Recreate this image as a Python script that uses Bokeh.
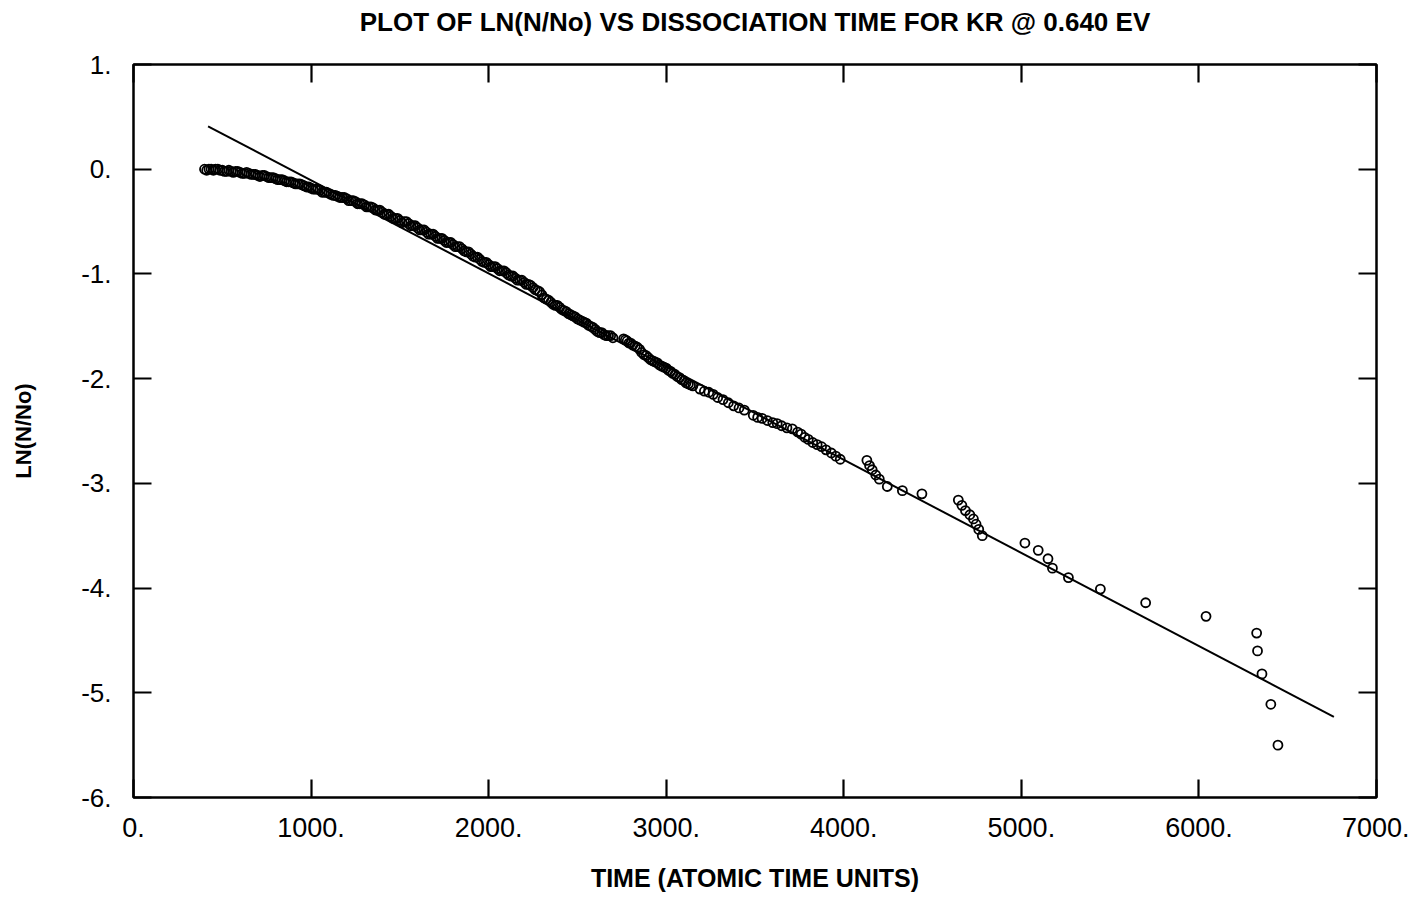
from bokeh.plotting import figure
from bokeh.models import LinearAxis, FixedTicker, Range1d
from bokeh.embed import file_html
from bokeh.resources import INLINE

# ---- data ----
time_dense = [400, 425, 450, 475, 500, 525, 550, 575, 600, 625, 650, 675, 700, 725, 750, 775,
              800, 825, 850, 875, 900, 925, 950, 975, 1000, 1025, 1050, 1075, 1100, 1125, 1150,
              1175, 1200, 1225, 1250, 1275, 1300, 1325, 1350, 1375, 1400, 1425, 1450, 1475,
              1500, 1525, 1550, 1575, 1600, 1625, 1650, 1675, 1700, 1725, 1750, 1775, 1800,
              1825, 1850, 1875, 1900, 1925, 1950, 1975, 2000, 2025, 2050, 2075, 2100, 2125,
              2150, 2175, 2200, 2225, 2250, 2275, 2300, 2325, 2350, 2375, 2400, 2425, 2450,
              2475, 2500, 2525, 2550, 2575, 2600, 2625, 2650, 2675, 2700, 2760, 2780, 2800,
              2825, 2850, 2875, 2900, 2925, 2950, 2975, 3000, 3025, 3050, 3075, 3100, 3125, 3150]
lnratio_dense = [0.00, 0.00, -0.01, 0.00, -0.01, -0.02, -0.02, -0.02, -0.03, -0.04, -0.04, -0.05,
                 -0.06, -0.06, -0.07, -0.08, -0.09, -0.10, -0.11, -0.12, -0.13, -0.14, -0.15,
                 -0.17, -0.18, -0.19, -0.20, -0.22, -0.23, -0.25, -0.26, -0.27, -0.28, -0.30,
                 -0.31, -0.33, -0.34, -0.36, -0.37, -0.39, -0.41, -0.43, -0.45, -0.47, -0.49,
                 -0.50, -0.52, -0.54, -0.56, -0.58, -0.60, -0.62, -0.64, -0.66, -0.68, -0.70,
                 -0.72, -0.74, -0.76, -0.79, -0.81, -0.84, -0.86, -0.89, -0.91, -0.93, -0.95,
                 -0.97, -0.99, -1.02, -1.04, -1.06, -1.08, -1.10, -1.13, -1.16, -1.20, -1.24,
                 -1.27, -1.30, -1.32, -1.35, -1.38, -1.40, -1.43, -1.45, -1.47, -1.50, -1.53,
                 -1.56, -1.58, -1.59, -1.61, -1.62, -1.64, -1.66, -1.69, -1.72, -1.77, -1.80,
                 -1.83, -1.85, -1.88, -1.90, -1.93, -1.96, -1.99, -2.02, -2.05, -2.07]

time_dense2 = [412, 437, 462, 487, 512, 537, 562, 587, 612, 637, 662, 687, 712, 737, 762, 787,
               812, 837, 862, 887, 912, 937, 962, 987, 1012, 1037, 1062, 1087, 1112, 1137, 1162,
               1187, 1212, 1237, 1262, 1287, 1312, 1337, 1362, 1387, 1412, 1437, 1462, 1487,
               1512, 1537, 1562, 1587, 1612, 1637, 1662, 1687, 1712, 1737, 1762, 1787, 1812,
               1837, 1862, 1887, 1912, 1937, 1962, 1987, 2012, 2037, 2062, 2087, 2112, 2137,
               2162, 2187, 2212, 2237, 2262, 2287, 2312, 2337, 2362, 2387, 2412, 2437, 2462,
               2487, 2512, 2537, 2562, 2587, 2612, 2637, 2662, 2687, 2770, 2790, 2812, 2837,
               2862, 2887, 2912, 2937, 2962, 2987, 3012, 3037, 3062, 3087, 3112, 3137]
lnratio_dense2 = [-0.01, 0.00, 0.00, -0.01, -0.02, -0.01, -0.03, -0.02, -0.04, -0.03, -0.05,
                  -0.05, -0.07, -0.06, -0.08, -0.08, -0.10, -0.10, -0.12, -0.12, -0.14, -0.14,
                  -0.16, -0.17, -0.19, -0.19, -0.22, -0.22, -0.24, -0.25, -0.27, -0.27, -0.30,
                  -0.30, -0.33, -0.33, -0.36, -0.36, -0.39, -0.39, -0.43, -0.43, -0.47, -0.47,
                  -0.51, -0.50, -0.54, -0.54, -0.58, -0.58, -0.62, -0.62, -0.66, -0.66, -0.70,
                  -0.70, -0.74, -0.74, -0.78, -0.79, -0.83, -0.84, -0.88, -0.89, -0.93, -0.93,
                  -0.97, -0.97, -1.01, -1.02, -1.06, -1.06, -1.10, -1.11, -1.15, -1.17, -1.23,
                  -1.25, -1.29, -1.30, -1.34, -1.36, -1.39, -1.41, -1.44, -1.46, -1.49, -1.51,
                  -1.55, -1.56, -1.59, -1.59, -1.63, -1.66, -1.68, -1.70, -1.75, -1.78, -1.82,
                  -1.84, -1.87, -1.89, -1.92, -1.95, -1.98, -2.01, -2.04, -2.06]

time_mid = [3190, 3215, 3240, 3265, 3290, 3320, 3350, 3380, 3410, 3440, 3490, 3515, 3540, 3570,
            3600, 3625, 3650, 3680, 3710, 3740, 3760, 3780, 3800, 3825, 3850, 3875, 3900, 3930,
            3955, 3980]
lnratio_mid = [-2.10, -2.12, -2.13, -2.15, -2.18, -2.20, -2.23, -2.26, -2.28, -2.30, -2.35, -2.37,
               -2.38, -2.40, -2.42, -2.43, -2.45, -2.47, -2.48, -2.51, -2.53, -2.56, -2.58, -2.61,
               -2.63, -2.65, -2.68, -2.71, -2.74, -2.77]

time_tail = [4130, 4145, 4160, 4180, 4200, 4245, 4330, 4440, 4645, 4665, 4685, 4710, 4730, 4745,
             4760, 4780, 5020, 5095, 5150, 5175, 5265, 5445, 5700, 6040, 6325, 6330, 6355, 6405,
             6445]
lnratio_tail = [-2.78, -2.83, -2.87, -2.92, -2.96, -3.03, -3.07, -3.10, -3.16, -3.21, -3.26, -3.30,
                -3.34, -3.39, -3.44, -3.50, -3.57, -3.64, -3.72, -3.81, -3.90, -4.01, -4.14, -4.27,
                -4.43, -4.60, -4.82, -5.11, -5.50]

fit_time = [420, 6760]
fit_lnratio = [0.41, -5.23]

x_ticks = [0, 1000, 2000, 3000, 4000, 5000, 6000, 7000]
x_tick_labels = ["0.", "1000.", "2000.", "3000.", "4000.", "5000.", "6000.", "7000."]
y_ticks = [1, 0, -1, -2, -3, -4, -5, -6]
y_tick_labels = ["1.", "0.", "-1.", "-2.", "-3.", "-4.", "-5.", "-6."]

title_text = "PLOT OF LN(N/No) VS DISSOCIATION TIME FOR KR @ 0.640 EV"
x_label = "TIME (ATOMIC TIME UNITS)"
y_label = "LN(N/No)"

# ---- figure ----
LABEL_FONT = "'Liberation Sans', sans-serif"
TICK_FONT = "'Liberation Sans', sans-serif"

p = figure(width=1409, height=894, x_range=Range1d(0, 7000), y_range=Range1d(-6, 1),
           output_backend="svg", toolbar_location=None,
           min_border_left=133, min_border_right=33, min_border_top=64, min_border_bottom=96)
p.background_fill_color = "white"
p.border_fill_color = "white"
p.grid.grid_line_color = None
p.outline_line_color = "black"
p.outline_line_width = 2.5

xa = p.xaxis[0]
ya = p.yaxis[0]
xa.ticker = FixedTicker(ticks=x_ticks)
ya.ticker = FixedTicker(ticks=y_ticks)
xa.major_label_overrides = dict(zip(x_ticks, x_tick_labels))
ya.major_label_overrides = dict(zip(y_ticks, y_tick_labels))
for ax in (xa, ya):
    ax.axis_line_color = None
    ax.major_tick_in = 18
    ax.major_tick_out = 0
    ax.major_tick_line_width = 2.2
    ax.major_tick_line_color = "black"
    ax.minor_tick_line_color = None
    ax.major_label_text_font = TICK_FONT
    ax.major_label_text_color = "black"
    ax.axis_label_text_font = LABEL_FONT
    ax.axis_label_text_font_style = "bold"
    ax.axis_label_text_color = "black"
xa.major_label_text_font_size = "27px"
ya.major_label_text_font_size = "26px"
xa.major_label_standoff = 20
ya.major_label_standoff = 22
xa.axis_label = x_label
ya.axis_label = y_label
xa.axis_label_text_font_size = "25px"
ya.axis_label_text_font_size = "22px"
xa.axis_label_standoff = 24
ya.axis_label_standoff = 42

# mirror axes: ticks only on top and right; the top one carries the chart title
top = LinearAxis(ticker=FixedTicker(ticks=x_ticks))
right = LinearAxis(ticker=FixedTicker(ticks=y_ticks))
for ax in (top, right):
    ax.axis_line_color = None
    ax.major_tick_in = 18
    ax.major_tick_out = 0
    ax.major_tick_line_width = 2.2
    ax.major_tick_line_color = "black"
    ax.minor_tick_line_color = None
    ax.major_label_text_font_size = "1px"
    ax.major_label_text_color = None
    ax.major_label_standoff = 0
top.axis_label = title_text
top.axis_label_text_font = LABEL_FONT
top.axis_label_text_font_size = "26px"
top.axis_label_text_font_style = "bold"
top.axis_label_text_color = "black"
top.axis_label_standoff = 28
p.add_layout(top, "above")
p.add_layout(right, "right")

p.line(fit_time, fit_lnratio, line_color="black", line_width=2)
for tx, vy in ((time_dense, lnratio_dense), (time_dense2, lnratio_dense2),
               (time_mid, lnratio_mid), (time_tail, lnratio_tail)):
    p.scatter(tx, vy, marker="circle", size=9, fill_color=None, line_color="black", line_width=1.8)

open("out.html", "w").write(file_html(p, INLINE))
